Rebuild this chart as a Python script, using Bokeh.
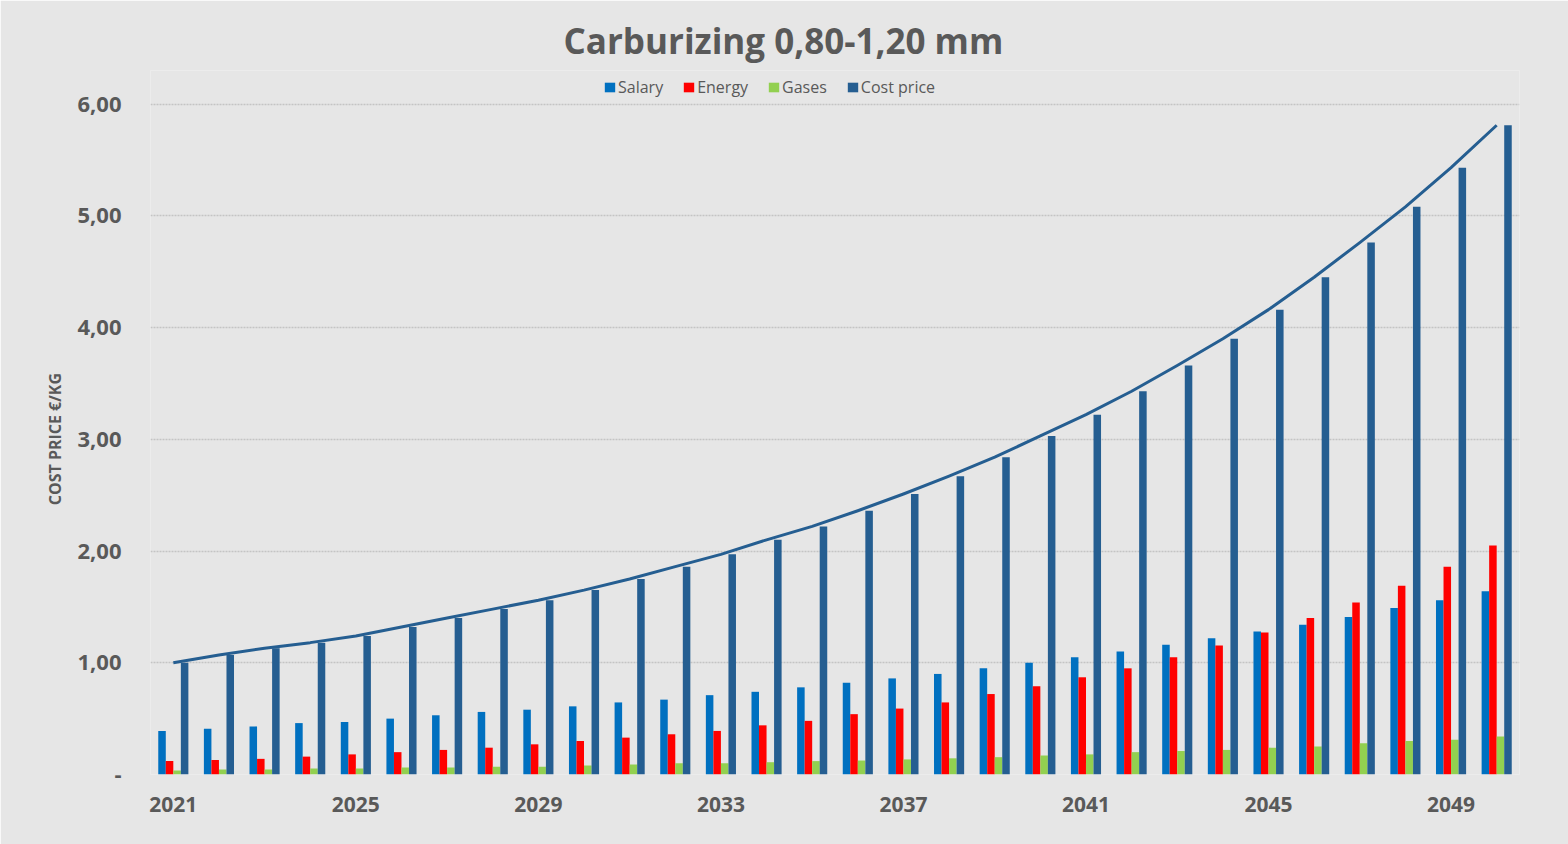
from bokeh.plotting import figure
from bokeh.models import (ColumnDataSource, FixedTicker, Legend, LegendItem, Title)
from bokeh.transform import dodge
from bokeh.embed import file_html
from bokeh.resources import INLINE

years = list(range(2021, 2051))
salary = [0.39, 0.41, 0.43, 0.46, 0.47, 0.50, 0.53, 0.56, 0.58, 0.61,
          0.645, 0.67, 0.71, 0.74, 0.78, 0.82, 0.86, 0.90, 0.95, 1.00,
          1.05, 1.10, 1.16, 1.22, 1.28, 1.34, 1.41, 1.49, 1.56, 1.64]
energy = [0.12, 0.13, 0.14, 0.16, 0.18, 0.20, 0.22, 0.24, 0.27, 0.30,
          0.33, 0.36, 0.39, 0.44, 0.48, 0.54, 0.59, 0.645, 0.72, 0.79,
          0.87, 0.95, 1.05, 1.155, 1.27, 1.40, 1.54, 1.69, 1.86, 2.05]
gases = [0.036, 0.045, 0.045, 0.054, 0.054, 0.063, 0.063, 0.07, 0.07, 0.08,
         0.09, 0.10, 0.10, 0.11, 0.12, 0.125, 0.135, 0.145, 0.155, 0.17,
         0.18, 0.20, 0.21, 0.22, 0.24, 0.25, 0.28, 0.30, 0.31, 0.34]
cost_price = [1.00, 1.07, 1.13, 1.18, 1.24, 1.32, 1.40, 1.48, 1.56, 1.65,
              1.75, 1.86, 1.97, 2.10, 2.22, 2.36, 2.51, 2.67, 2.84, 3.03,
              3.22, 3.43, 3.66, 3.90, 4.16, 4.45, 4.76, 5.08, 5.43, 5.81]
x_ticks = [2021, 2025, 2029, 2033, 2037, 2041, 2045, 2049]
y_ticks = [0, 1, 2, 3, 4, 5, 6]
y_tick_labels = ["-", "1,00", "2,00", "3,00", "4,00", "5,00", "6,00"]
series_names = ["Salary", "Energy", "Gases", "Cost price"]
series_colors = ["#0070c0", "#ff0000", "#92d050", "#255e91"]

TXT = "#595959"
BG = "#e6e6e6"
FONT = "Open Sans"

src = ColumnDataSource(dict(year=years, salary=salary, energy=energy,
                            gases=gases, cost=cost_price))

# the frame reaches a little above 6 so the legend sits inside it
p = figure(width=1568, height=844, x_range=(2020.5, 2050.5), y_range=(0, 6.3),
           output_backend="svg", toolbar_location=None,
           background_fill_color=BG, border_fill_color=BG,
           min_border_left=150, min_border_right=49,
           min_border_top=70, min_border_bottom=70)
p.outline_line_color = None

p.title = Title(text="Carburizing 0,80-1,20 mm", align="left", offset=413,
                standoff=13, text_font=FONT, text_font_size="35px",
                text_font_style="bold", text_color=TXT)

bw = 0.165
offs = [-1.5 * bw, -0.5 * bw, 0.5 * bw, 1.5 * bw]
cols = ["salary", "energy", "gases", "cost"]
renderers = []
for c, o, col in zip(cols, offs, series_colors):
    r = p.vbar(x=dodge("year", o, range=p.x_range), top=c, width=bw,
               source=src, fill_color=col, line_color=None)
    renderers.append(r)

# cost price as a line through the group centres
p.line(x="year", y="cost", source=src, line_color="#255e91", line_width=3,
       line_join="round")

legend = Legend(items=[LegendItem(label=n, renderers=[r])
                       for n, r in zip(series_names, renderers)],
                orientation="horizontal", location=(453, 676),
                glyph_width=13, glyph_height=12, label_standoff=2, spacing=19,
                padding=0, margin=0, border_line_color=None,
                background_fill_alpha=0,
                label_text_font=FONT, label_text_font_size="16px",
                label_text_color=TXT, label_height=16)
p.add_layout(legend, "center")

p.xaxis.ticker = FixedTicker(ticks=x_ticks)
p.yaxis.ticker = FixedTicker(ticks=y_ticks)
p.yaxis.major_label_overrides = {float(k): v for k, v in zip(y_ticks, y_tick_labels)}
for ax in (p.xaxis, p.yaxis):
    ax.axis_line_color = None
    ax.major_tick_line_color = None
    ax.minor_tick_line_color = None
    ax.major_label_text_font = FONT
    ax.major_label_text_font_style = "bold"
    ax.major_label_text_color = TXT
p.xaxis.major_label_text_font_size = "21px"
p.yaxis.major_label_text_font_size = "22px"
p.xaxis.major_label_standoff = 16
p.yaxis.major_label_standoff = 23
# trailing no-break spaces centre the label on the 0..6 span, not the frame
p.yaxis.axis_label = "COST PRICE €/KG" + "\u00a0" * 8
p.yaxis.axis_label_text_font = FONT
p.yaxis.axis_label_text_font_style = "bold"
p.yaxis.axis_label_text_font_size = "16px"
p.yaxis.axis_label_text_color = TXT
p.yaxis.axis_label_standoff = 8

p.xgrid.grid_line_color = None
p.ygrid.grid_line_color = "#c4c4c4"
p.ygrid.grid_line_width = 1.5
p.ygrid.grid_line_dash = "2 1"

open("out.html", "w").write(file_html(p, INLINE))
